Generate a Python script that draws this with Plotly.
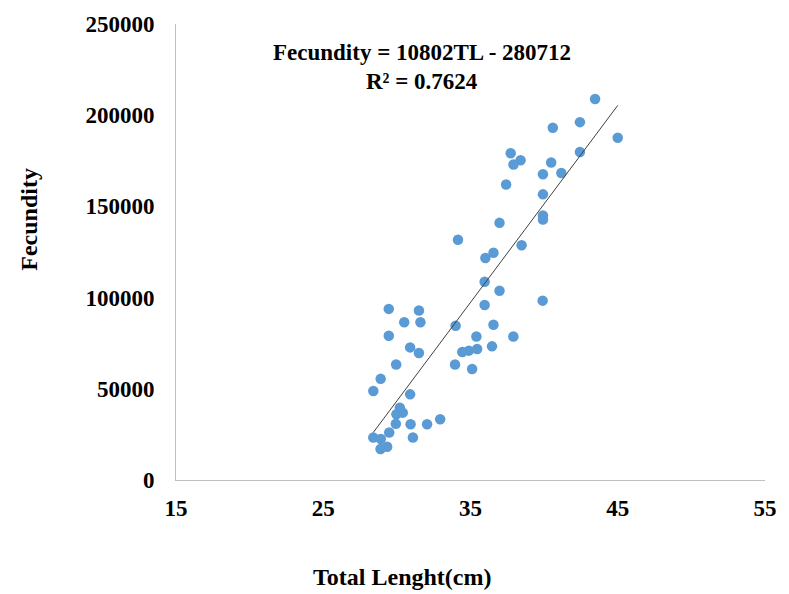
import plotly.graph_objects as go

# Total length (cm) and fecundity
total_length = [
    29.45, 31.5, 30.5, 31.6, 29.45, 30.9, 31.5, 29.95, 28.9, 28.4,
    30.9, 30.2, 29.97, 30.4, 29.93, 30.93, 32.05, 32.94, 29.48, 28.4,
    28.91, 31.09, 28.89, 29.34,
    33.99, 33.95, 34.44, 34.89, 35.45, 35.11, 35.4, 36.56, 37.91, 36.46,
    35.96, 36.97, 35.96, 36.01, 36.56, 34.15, 38.47, 36.97, 39.92, 39.92,
    39.9,
    43.46, 42.43, 40.59, 45.0, 37.73, 38.4, 37.92, 40.48, 42.43, 41.17,
    39.92, 37.42, 39.92,
]
fecundity = [
    93800, 92900, 86500, 86500, 79100, 72700, 69600, 63300, 55450, 48750,
    46950, 39650, 36060, 36930, 30780, 30600, 30600, 33340, 26040, 23310,
    22440, 23310, 17000, 18250,
    84540, 63300, 70160, 70920, 71790, 60900, 78710, 85080, 78710, 73260,
    95980, 103770, 108670, 121740, 124630, 131710, 128660, 140970, 145000, 142820,
    98320,
    208890, 196200, 193100, 187650, 179100, 175280, 172940, 174030, 179860, 168310,
    167660, 162050, 156600,
]

slope = 10802
intercept = -280712
r_squared = "0.7624"

x_ticks = [15, 25, 35, 45, 55]
y_ticks = [0, 50000, 100000, 150000, 200000, 250000]

FONT = "Times New Roman, Liberation Serif, serif"

x_min, x_max = min(total_length), max(total_length)
trend_x = [x_min, x_max]
trend_y = [slope * v + intercept for v in trend_x]

fig = go.Figure()
fig.add_trace(go.Scatter(
    x=total_length, y=fecundity, mode="markers",
    marker=dict(color="#5b9bd5", size=10.5, line=dict(width=0)),
    showlegend=False, hoverinfo="x+y",
))
fig.add_trace(go.Scatter(
    x=trend_x, y=trend_y, mode="lines",
    line=dict(color="#404040", width=1),
    showlegend=False, hoverinfo="skip",
))

fig.update_layout(
    width=789, height=594,
    margin=dict(l=176, r=16, t=19, b=114),
    paper_bgcolor="white", plot_bgcolor="white",
    font=dict(family=FONT, color="black"),
    xaxis=dict(
        range=[15, 55], tickvals=x_ticks, ticktext=[str(v) for v in x_ticks],
        showgrid=False, zeroline=False, showline=True,
        linecolor="#bfbfbf", linewidth=1, ticks="",
        tickfont=dict(family=FONT, size=23, color="black", weight="bold"),
        ticklabelstandoff=7,
    ),
    yaxis=dict(
        range=[0, 250000], tickvals=y_ticks, ticktext=[str(v) for v in y_ticks],
        showgrid=False, zeroline=False, showline=True,
        linecolor="#bfbfbf", linewidth=1, ticks="",
        tickfont=dict(family=FONT, size=23, color="black", weight="bold"),
        ticklabelstandoff=16,
    ),
    annotations=[
        dict(text="<b>Fecundity = %dTL - %d</b>" % (slope, -intercept),
             x=0.418, y=0.937, xref="paper", yref="paper",
             xanchor="center", yanchor="middle", showarrow=False,
             font=dict(family=FONT, size=23, color="black")),
        dict(text="<b>R² = %s</b>" % r_squared,
             x=0.418, y=0.874, xref="paper", yref="paper",
             xanchor="center", yanchor="middle", showarrow=False,
             font=dict(family=FONT, size=23, color="black")),
        dict(text="<b>Total Lenght(cm)</b>",
             x=0.384, y=-0.212, xref="paper", yref="paper",
             xanchor="center", yanchor="middle", showarrow=False,
             font=dict(family=FONT, size=24, color="black")),
        dict(text="<b>Fecundity</b>", textangle=-90,
             x=-0.251, y=0.571, xref="paper", yref="paper",
             xanchor="center", yanchor="middle", showarrow=False,
             font=dict(family=FONT, size=24, color="black")),
    ],
)

fig.write_html("out.html")
